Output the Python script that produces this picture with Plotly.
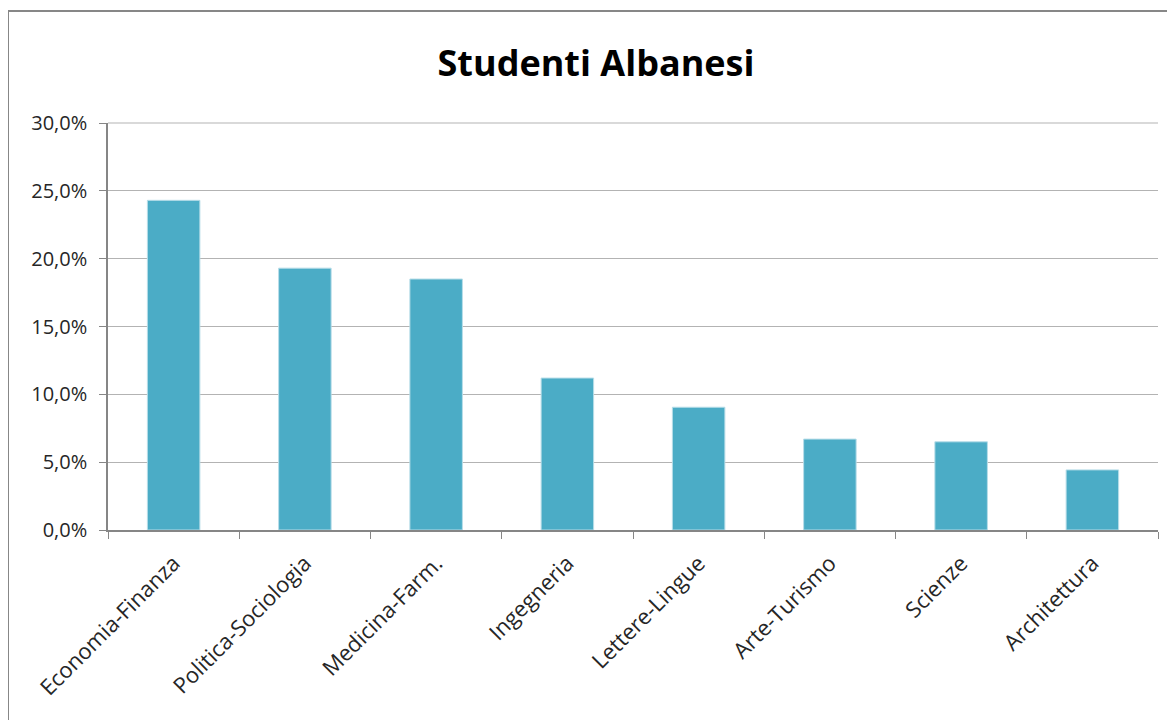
import plotly.graph_objects as go

# ─── Dati ───
facolta = ["Economia-Finanza", "Politica-Sociologia", "Medicina-Farm.", "Ingegneria",
           "Lettere-Lingue", "Arte-Turismo", "Scienze", "Architettura"]
quota = [0.243, 0.193, 0.185, 0.112, 0.0905, 0.067, 0.065, 0.0443]
Y_MAX = 0.30

# la pagina ha 8px di margine nel body: coordinate in pixel della figura
W, H = 1175, 720
ML, MR, MT, MB = 100, 25, 115, 198
PW, PH = W - ML - MR, H - MT - MB

AXIS = "#868686"
GRID = "#b3b3b3"
TEXT = "#262626"

fig = go.Figure(go.Bar(
    x=facolta, y=quota,
    marker=dict(color="#4bacc6", line=dict(color="#b7dde8", width=1)),
    width=0.4,
))

# cornice esterna del grafico (pixel -> paper)
def px_x(p): return (p - ML) / PW
def px_y(p): return (H - MB - p) / PH

fig.add_shape(type="rect", xref="paper", yref="paper",
              x0=px_x(0), x1=px_x(1200), y0=px_y(3), y1=px_y(760),
              line=dict(color="#878787", width=2), fillcolor="rgba(0,0,0,0)")
# griglia superiore (30%) – non ritagliata dal bordo del grafico
fig.add_shape(type="line", xref="paper", yref="paper", x0=0, x1=1, y0=1, y1=1,
              line=dict(color=GRID, width=1.2))

fig.update_layout(
    width=W, height=H,
    margin=dict(l=ML, r=MR, t=MT, b=MB),
    paper_bgcolor="white", plot_bgcolor="white",
    separators=",.",
    showlegend=False,
    font=dict(family="Open Sans, sans-serif", color=TEXT, size=20),
    title=dict(text="<b>Studenti Albanesi</b>", x=588 / W, xanchor="center",
               y=1 - 55 / H, yanchor="middle",
               font=dict(size=36, color="black", family="Open Sans, sans-serif")),
    xaxis=dict(
        showline=True, linecolor=AXIS, linewidth=1.5,
        ticks="outside", tickson="boundaries", ticklen=7, tickcolor=AXIS,
        tickangle=-45, tickfont=dict(size=22, color=TEXT), ticklabelstandoff=10,
        showgrid=False,
    ),
    yaxis=dict(
        range=[0, Y_MAX], dtick=0.05, tickformat=".1%",
        showline=True, linecolor=AXIS, linewidth=1.5,
        ticks="outside", ticklen=7, tickcolor=AXIS, ticklabelstandoff=8,
        showgrid=True, gridcolor=GRID, gridwidth=1.2,
        zeroline=False, tickfont=dict(size=20, color=TEXT),
    ),
)

fig.write_html("out.html")
